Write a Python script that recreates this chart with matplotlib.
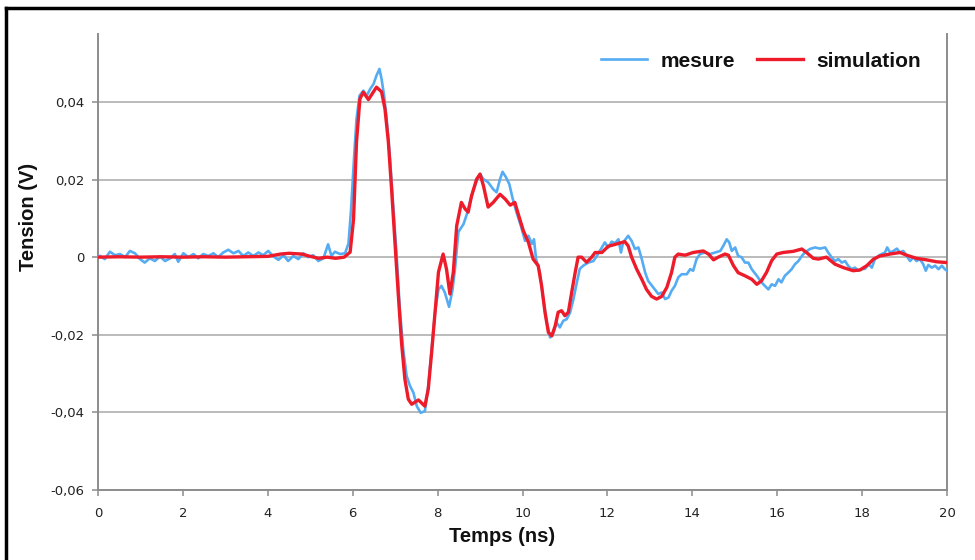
import matplotlib
matplotlib.use("Agg")
import matplotlib.pyplot as plt
from matplotlib.lines import Line2D
from matplotlib.ticker import FuncFormatter

# mesure (ns, V)
t_mes = [0.00, 0.05, 0.16, 0.28, 0.40, 0.52, 0.64, 0.75, 0.87, 0.99, 1.10, 1.22, 1.34, 1.46,
         1.58, 1.70, 1.81, 1.89, 2.01, 2.13, 2.25, 2.36, 2.48, 2.60, 2.72, 2.83, 2.95, 3.07,
         3.19, 3.31, 3.42, 3.54, 3.66, 3.78, 3.89, 4.01, 4.13, 4.25, 4.37, 4.48, 4.60, 4.72,
         4.84, 4.95, 5.07, 5.19, 5.31, 5.42, 5.50, 5.58, 5.70, 5.82, 5.90, 5.96, 6.03, 6.09,
         6.16, 6.25, 6.33, 6.41, 6.49, 6.56, 6.63, 6.68, 6.74, 6.80, 6.88, 6.96, 7.04, 7.11,
         7.19, 7.27, 7.35, 7.43, 7.51, 7.60, 7.70, 7.78, 7.86, 7.94, 8.02, 8.09, 8.17, 8.27,
         8.35, 8.41, 8.49, 8.55, 8.61, 8.69, 8.76, 8.84, 8.92, 9.00, 9.08, 9.19, 9.31, 9.39,
         9.47, 9.53, 9.61, 9.69, 9.77, 9.86, 9.96, 10.06, 10.14, 10.22, 10.27, 10.32, 10.41,
         10.49, 10.57, 10.65, 10.73, 10.80, 10.88, 10.96, 11.04, 11.12, 11.20, 11.28, 11.35,
         11.43, 11.55, 11.67, 11.75, 11.87, 11.94, 12.02, 12.10, 12.18, 12.26, 12.32, 12.37,
         12.49, 12.57, 12.65, 12.73, 12.81, 12.89, 12.96, 13.08, 13.20, 13.28, 13.36, 13.44,
         13.51, 13.59, 13.67, 13.75, 13.87, 13.95, 14.02, 14.10, 14.18, 14.30, 14.42, 14.54,
         14.66, 14.73, 14.81, 14.87, 14.93, 15.01, 15.08, 15.16, 15.24, 15.32, 15.40, 15.52,
         15.63, 15.71, 15.79, 15.87, 15.95, 16.03, 16.10, 16.18, 16.26, 16.34, 16.42, 16.50,
         16.58, 16.65, 16.77, 16.89, 17.01, 17.13, 17.20, 17.28, 17.36, 17.44, 17.52, 17.60,
         17.67, 17.75, 17.83, 17.91, 17.99, 18.07, 18.15, 18.23, 18.30, 18.38, 18.46, 18.54,
         18.59, 18.66, 18.74, 18.82, 18.89, 18.97, 19.05, 19.13, 19.21, 19.28, 19.36, 19.44,
         19.50, 19.56, 19.64, 19.72, 19.80, 19.88, 19.95, 20.00]
v_mes = [0.0003, 0.0003, -0.0005, 0.0014, 0.0005, 0.0008, 0.0000, 0.0016, 0.0010, -0.0005,
         -0.0014, -0.0003, -0.0010, 0.0002, -0.0010, -0.0003, 0.0008, -0.0012, 0.0010, 0.0000,
         0.0008, -0.0003, 0.0008, 0.0003, 0.0010, 0.0000, 0.0012, 0.0019, 0.0010, 0.0016,
         0.0003, 0.0012, 0.0003, 0.0012, 0.0005, 0.0016, 0.0002, -0.0007, 0.0005, -0.0010,
         0.0003, -0.0005, 0.0010, 0.0000, 0.0005, -0.0010, -0.0003, 0.0033, 0.0003, 0.0014,
         0.0008, 0.0010, 0.0035, 0.0120, 0.0253, 0.0356, 0.0416, 0.0429, 0.0416, 0.0433,
         0.0446, 0.0468, 0.0485, 0.0459, 0.0416, 0.0356, 0.0253, 0.0124, -0.0005, -0.0134,
         -0.0237, -0.0306, -0.0332, -0.0349, -0.0384, -0.0401, -0.0397, -0.0332, -0.0237,
         -0.0142, -0.0083, -0.0074, -0.0091, -0.0128, -0.0085, -0.0030, 0.0065, 0.0075,
         0.0085, 0.0111, 0.0141, 0.0171, 0.0197, 0.0214, 0.0201, 0.0193, 0.0175, 0.0167,
         0.0201, 0.0220, 0.0206, 0.0188, 0.0150, 0.0115, 0.0081, 0.0042, 0.0055, 0.0034,
         0.0046, -0.0005, -0.0040, -0.0108, -0.0168, -0.0207, -0.0194, -0.0168, -0.0181,
         -0.0164, -0.0160, -0.0143, -0.0108, -0.0065, -0.0030, -0.0022, -0.0014, -0.0010,
         0.0003, 0.0025, 0.0038, 0.0025, 0.0040, 0.0036, 0.0046, 0.0012, 0.0038, 0.0055,
         0.0042, 0.0021, 0.0025, -0.0005, -0.0040, -0.0061, -0.0078, -0.0095, -0.0091,
         -0.0108, -0.0104, -0.0087, -0.0074, -0.0052, -0.0044, -0.0044, -0.0031, -0.0035,
         -0.0005, 0.0008, 0.0012, 0.0008, 0.0012, 0.0016, 0.0029, 0.0046, 0.0038, 0.0016,
         0.0025, 0.0003, 0.0000, -0.0014, -0.0014, -0.0031, -0.0048, -0.0065, -0.0074,
         -0.0083, -0.0070, -0.0074, -0.0057, -0.0065, -0.0048, -0.0040, -0.0031, -0.0018,
         -0.0010, 0.0003, 0.0012, 0.0021, 0.0025, 0.0022, 0.0025, 0.0012, 0.0000, -0.0010,
         -0.0005, -0.0014, -0.0010, -0.0022, -0.0031, -0.0027, -0.0035, -0.0031, -0.0030,
         -0.0018, -0.0027, -0.0005, 0.0003, 0.0008, 0.0012, 0.0025, 0.0012, 0.0016, 0.0022,
         0.0012, 0.0016, 0.0003, -0.0010, 0.0000, -0.0010, -0.0005, -0.0018, -0.0035,
         -0.0020, -0.0027, -0.0022, -0.0031, -0.0022, -0.0031, -0.0035]

# simulation (ns, V)
t_sim = [0.0, 0.5, 1.0, 1.5, 2.0, 2.5, 3.0, 3.5, 4.0, 4.3, 4.5, 4.8, 5.0, 5.2, 5.4, 5.6, 5.8,
         5.94, 6.02, 6.09, 6.17, 6.25, 6.37, 6.56, 6.68, 6.76, 6.84, 6.92, 7.00, 7.07, 7.15,
         7.23, 7.31, 7.39, 7.55, 7.70, 7.78, 7.86, 7.94, 8.02, 8.13, 8.21, 8.29, 8.37, 8.45,
         8.56, 8.65, 8.72, 8.80, 8.92, 9.00, 9.08, 9.19, 9.31, 9.47, 9.59, 9.71, 9.82, 9.90,
         10.02, 10.14, 10.25, 10.37, 10.45, 10.53, 10.61, 10.69, 10.77, 10.84, 10.92, 11.00,
         11.08, 11.16, 11.24, 11.31, 11.39, 11.51, 11.63, 11.71, 11.87, 12.02, 12.22, 12.41,
         12.49, 12.57, 12.69, 12.81, 12.92, 13.04, 13.16, 13.28, 13.40, 13.51, 13.59, 13.67,
         13.83, 14.02, 14.26, 14.38, 14.50, 14.61, 14.77, 14.85, 14.97, 15.08, 15.24, 15.40,
         15.52, 15.63, 15.75, 15.87, 15.99, 16.14, 16.38, 16.58, 16.69, 16.85, 16.97, 17.16,
         17.36, 17.56, 17.79, 17.95, 18.11, 18.27, 18.42, 18.66, 18.89, 19.05, 19.28, 19.52,
         19.76, 20.0]
v_sim = [0.0, 0.0001, 0.0, 0.0001, 0.0, 0.0001, 0.0, 0.0001, 0.0002, 0.0008, 0.0010, 0.0008,
         0.0002, -0.0003, 0.0, -0.0003, 0.0, 0.0013, 0.0098, 0.0297, 0.0408, 0.0425, 0.0406,
         0.0438, 0.0426, 0.0382, 0.0297, 0.0168, 0.0029, -0.0090, -0.0220, -0.0315, -0.0366,
         -0.0379, -0.0368, -0.0384, -0.0340, -0.0245, -0.0142, -0.0039, 0.0008, -0.0031,
         -0.0095, -0.0039, 0.0081, 0.0141, 0.0124, 0.0116, 0.0158, 0.0201, 0.0214, 0.0184,
         0.0129, 0.0141, 0.0162, 0.0150, 0.0134, 0.0141, 0.0111, 0.0068, 0.0038, -0.0005,
         -0.0022, -0.0074, -0.0142, -0.0194, -0.0203, -0.0177, -0.0142, -0.0138, -0.0151,
         -0.0142, -0.0090, -0.0040, 0.0, 0.0, -0.0013, 0.0, 0.0012, 0.0012, 0.0028, 0.0034,
         0.0040, 0.0029, 0.0, -0.0031, -0.0057, -0.0083, -0.0101, -0.0108, -0.0101, -0.0078,
         -0.0040, 0.0, 0.0008, 0.0005, 0.0012, 0.0016, 0.0008, -0.0007, 0.0, 0.0008, 0.0005,
         -0.0022, -0.0040, -0.0048, -0.0057, -0.0070, -0.0061, -0.0039, -0.0009, 0.0008,
         0.0012, 0.0015, 0.0021, 0.0012, -0.0003, -0.0005, 0.0, -0.0018, -0.0027, -0.0035,
         -0.0033, -0.0022, -0.0005, 0.0003, 0.0008, 0.0012, 0.0005, -0.0003, -0.0007,
         -0.0012, -0.0014]

x_ticks = list(range(0, 21, 2))
y_ticks = [-0.06, -0.04, -0.02, 0.0, 0.02, 0.04]


def fmt_v(v, pos):
    if abs(v) < 1e-9:
        return "0"
    return f"{v:.2f}".replace(".", ",")


W, H = 975, 560
fig = plt.figure(figsize=(W / 100, H / 100), dpi=100)
ax = fig.add_axes([98 / W, 70 / H, 849 / W, 456 / H])

grid_c = "#a8a8a8"
spine_c = "#8c8c8c"
for y in y_ticks[1:]:
    ax.axhline(y, color=grid_c, lw=1.1, zorder=1)

ax.plot(t_mes, v_mes, color="#55acf2", lw=1.9, label="mesure", zorder=3,
        solid_joinstyle="round")
ax.plot(t_sim, v_sim, color="#ee1c2a", lw=2.4, label="simulation", zorder=4,
        solid_joinstyle="round")

ax.set_xlim(0, 20)
ax.set_ylim(-0.06, 0.0575)
ax.set_xticks(x_ticks)
ax.set_yticks(y_ticks)
ax.yaxis.set_major_formatter(FuncFormatter(fmt_v))
ax.tick_params(axis="both", direction="out", length=4, width=1.1, color=spine_c,
               labelsize=9.5, labelcolor="#222222")
ax.tick_params(axis="x", pad=8)
ax.tick_params(axis="y", pad=6)
ax.spines["top"].set_visible(False)
for s in ("left", "bottom", "right"):
    ax.spines[s].set_color(spine_c)
    ax.spines[s].set_linewidth(1.4)

lab = dict(family="Liberation Sans", fontweight="bold", fontsize=14.5, color="#111111")
fig.text(502 / W, 1 - 537 / H, "Temps (ns)", ha="center", va="center", **lab)
fig.text(28 / W, 1 - 217 / H, "Tension (V)", ha="center", va="center", rotation=90, **lab)

leg = ax.legend(loc="center right", bbox_to_anchor=(921 / W, 1 - 61 / H),
                bbox_transform=fig.transFigure, ncol=2, frameon=False, borderpad=0,
                borderaxespad=0, handlelength=2.2, handletextpad=0.65, columnspacing=1.05,
                prop={"family": "Liberation Sans", "weight": "bold", "size": 15})
for txt in leg.get_texts():
    txt.set_color("#111111")

# black frame around the chart
fig.add_artist(Line2D([6 / W, 6 / W], [0, 1 - 7.5 / H], transform=fig.transFigure,
                      color="black", lw=2.5))
fig.add_artist(Line2D([6 / W, 1], [1 - 7.5 / H, 1 - 7.5 / H], transform=fig.transFigure,
                      color="black", lw=2.5))

fig.savefig("out.png", dpi=100)
plt.close(fig)
